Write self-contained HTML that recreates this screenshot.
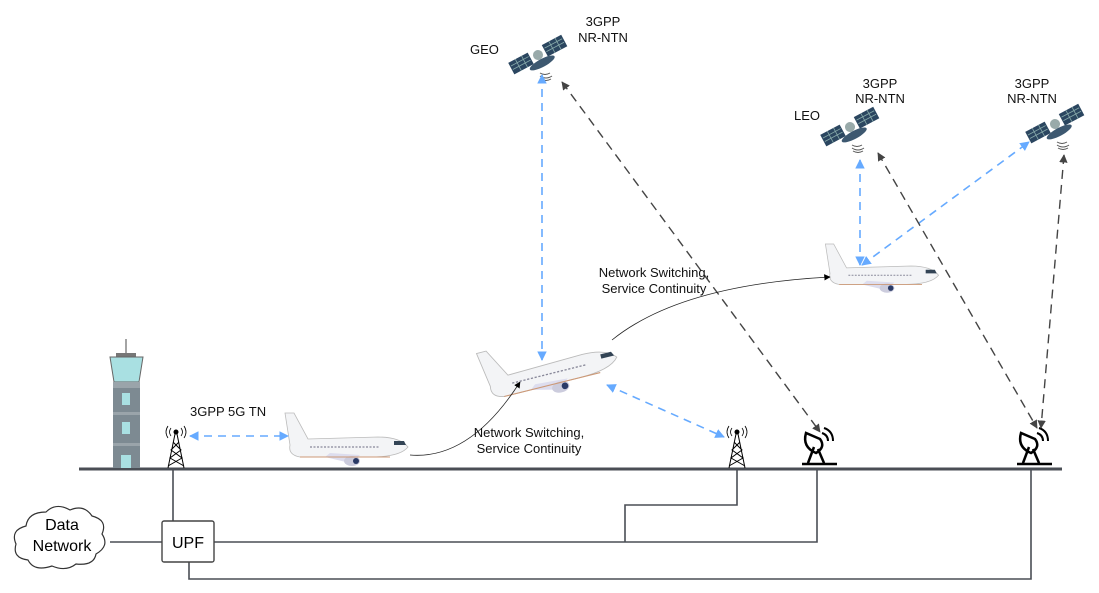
<!DOCTYPE html>
<html><head><meta charset="utf-8"><style>
html,body{margin:0;padding:0;background:#fff;}
svg{display:block;font-family:"Liberation Sans",sans-serif;}
</style></head><body>
<svg width="1099" height="593" viewBox="0 0 1099 593" xmlns="http://www.w3.org/2000/svg">
<defs>
<marker id="ab" viewBox="0 0 10 10" refX="9" refY="5" markerWidth="6" markerHeight="6" orient="auto-start-reverse"><path d="M0,0L10,5L0,10z" fill="#66aaff"/></marker>
<marker id="ak" viewBox="0 0 10 10" refX="9" refY="5" markerWidth="6" markerHeight="6" orient="auto-start-reverse"><path d="M0,0L10,5L0,10z" fill="#444"/></marker>
<marker id="ak2" viewBox="0 0 10 10" refX="9" refY="5" markerWidth="8" markerHeight="8" orient="auto"><path d="M0,0L10,5L0,10z" fill="#000"/></marker>
<g id="sat">
 <g transform="rotate(-28)">
  <rect x="-30" y="-7" width="22" height="13" fill="#2b4660"/>
  <rect x="8" y="-7" width="22" height="13" fill="#2b4660"/>
  <path d="M-29 -3H-9M-29 1H-9M-22 -7V6M-15 -7V6M9 -3H29M9 1H29M16 -7V6M23 -7V6" stroke="#8aa" stroke-width="0.8"/>
  <circle cx="0" cy="0" r="5" fill="#9aa"/>
  <ellipse cx="0" cy="9" rx="14" ry="4" fill="#3d5870"/>
 </g>
 <path d="M2 18q5 3 10 0M2 21q6 4 12 0M3 24q5 3 10 0" stroke="#555" stroke-width="1" fill="none"/>
</g>
<g id="cell">
 <circle cx="0" cy="0" r="2.5" fill="#000"/>
 <path d="M-5 -4q-3 4 0 8M5 -4q3 4 0 8M-8 -6q-4 6 0 12M8 -6q4 6 0 12" stroke="#000" stroke-width="0.8" fill="none"/>
 <path d="M-1 2L-8 36M1 2L8 36M-3 10L5 18L-6 26L8 34M3 10L-5 18L6 26L-8 34" stroke="#000" stroke-width="1" fill="none"/>
</g>
<g id="dish">
 <path d="M-14 -22q-4 14 10 20q10 -6 4 -14z" fill="none" stroke="#000" stroke-width="2.5"/>
 <path d="M-6 -8L-12 8M-2 -6L4 8M-18 9H17" stroke="#000" stroke-width="2.5"/>
 <path d="M2 -22q6 2 6 8M4 -27q9 3 9 13" stroke="#000" stroke-width="2" fill="none"/>
</g>
<g id="plane">
 <path d="M0 20 L-5 -12 L4 -12 L18 14 L88 12 Q110 12 118 22 Q110 32 80 32 L10 32 Q-2 30 0 20z" fill="#f3f4f6" stroke="#bbb" stroke-width="0.8"/>
 <path d="M104 16h10l2 4h-12z" fill="#345"/>
 <path d="M20 22H90" stroke="#889" stroke-width="1.2" stroke-dasharray="2 1.5"/>
 <path d="M40 28L70 30L60 38L35 32z" fill="#dde"/>
 <ellipse cx="62" cy="36" rx="8" ry="5" fill="#ccd"/>
 <circle cx="66" cy="36" r="3" fill="#2a3a66"/>
 <path d="M10 32H100" stroke="#c97" stroke-width="1"/>
</g>
</defs>

<!-- ground -->
<line x1="79" y1="469" x2="1062" y2="469" stroke="#4a4e55" stroke-width="3"/>
<!-- wires -->
<g stroke="#4a4e55" stroke-width="1.6" fill="none">
 <path d="M173 469V521"/>
 <path d="M214 542H817V469"/>
 <path d="M625 542V505H737V469"/>
 <path d="M189 562V579H1031V469"/>
 <path d="M110 542H162"/>
</g>
<rect x="162" y="521" width="52" height="41" rx="2" fill="#fff" stroke="#444" stroke-width="1.4"/>
<text x="188" y="548" font-size="16" text-anchor="middle">UPF</text>
<!-- cloud -->
<path d="M28 560 q-16 -2 -12 -16 q-6 -14 10 -18 q2 -14 20 -14 q10 -10 24 -2 q14 -6 22 6 q16 4 10 18 q8 12 -6 20 q-2 12 -20 10 q-10 8 -24 2 q-18 6 -24 -6z" fill="#fff" stroke="#333" stroke-width="1.2"/>
<text x="62" y="530" font-size="16" text-anchor="middle">Data</text>
<text x="62" y="551" font-size="16" text-anchor="middle">Network</text>

<!-- control tower -->
<g>
 <line x1="126" y1="339" x2="126" y2="355" stroke="#666" stroke-width="1.2"/>
 <rect x="116" y="353" width="20" height="4" fill="#777"/>
 <path d="M110 357H143L139 382H114z" fill="#a9e0e2" stroke="#666"/>
 <rect x="113" y="382" width="27" height="86" fill="#7d8a92"/>
 <rect x="113" y="382" width="27" height="6" fill="#9aa4aa"/>
 <rect x="113" y="412" width="27" height="3" fill="#9aa4aa"/>
 <rect x="113" y="443" width="27" height="3" fill="#9aa4aa"/>
 <rect x="122" y="393" width="8" height="12" fill="#a9e0e2"/>
 <rect x="122" y="422" width="8" height="12" fill="#a9e0e2"/>
 <rect x="121" y="455" width="10" height="13" fill="#a9e0e2"/>
</g>

<use href="#cell" x="176" y="432"/>
<use href="#cell" x="737" y="432"/>
<use href="#dish" x="820" y="455"/>
<use href="#dish" x="1035" y="455"/>

<!-- planes -->
<use href="#plane" x="290" y="425"/>
<g transform="translate(485 365) rotate(-14)"><use href="#plane" x="0" y="0" transform="scale(1.1)"/></g>
<use href="#plane" transform="translate(830 255) scale(0.92)"/>

<!-- satellites -->
<use href="#sat" x="538" y="55"/>
<use href="#sat" x="850" y="127"/>
<use href="#sat" x="1055" y="124"/>

<!-- blue dashed -->
<g stroke="#66aaff" stroke-width="1.6" stroke-dasharray="8 6" fill="none">
 <line x1="190" y1="436" x2="288" y2="436" marker-start="url(#ab)" marker-end="url(#ab)"/>
 <line x1="542" y1="75" x2="542" y2="360" marker-start="url(#ab)" marker-end="url(#ab)"/>
 <line x1="607" y1="385" x2="724" y2="437" marker-start="url(#ab)" marker-end="url(#ab)"/>
 <line x1="860" y1="160" x2="860" y2="265" marker-start="url(#ab)" marker-end="url(#ab)"/>
 <line x1="862" y1="265" x2="1029" y2="142" marker-start="url(#ab)" marker-end="url(#ab)"/>
</g>
<!-- black dashed -->
<g stroke="#444" stroke-width="1.4" stroke-dasharray="9 6" fill="none">
 <line x1="562" y1="82" x2="820" y2="432" marker-start="url(#ak)" marker-end="url(#ak)"/>
 <line x1="878" y1="153" x2="1037" y2="428" marker-start="url(#ak)" marker-end="url(#ak)"/>
 <line x1="1064" y1="155" x2="1041" y2="428" marker-start="url(#ak)" marker-end="url(#ak)"/>
</g>
<!-- handover curves -->
<path d="M410 455 Q470 460 520 382" stroke="#222" stroke-width="0.8" fill="none" marker-end="url(#ak2)"/>
<path d="M612 340 Q680 285 830 277" stroke="#222" stroke-width="0.8" fill="none" marker-end="url(#ak2)"/>

<!-- labels -->
<g font-size="13" fill="#111">
 <text x="190" y="416">3GPP 5G TN</text>
 <text x="529" y="437" text-anchor="middle">Network Switching,</text>
 <text x="529" y="453" text-anchor="middle">Service Continuity</text>
 <text x="654" y="277" text-anchor="middle">Network Switching,</text>
 <text x="654" y="293" text-anchor="middle">Service Continuity</text>
 <text x="470" y="54">GEO</text>
 <text x="603" y="26" text-anchor="middle">3GPP</text>
 <text x="603" y="42" text-anchor="middle">NR-NTN</text>
 <text x="794" y="120">LEO</text>
 <text x="880" y="88" text-anchor="middle">3GPP</text>
 <text x="880" y="103" text-anchor="middle">NR-NTN</text>
 <text x="1032" y="88" text-anchor="middle">3GPP</text>
 <text x="1032" y="103" text-anchor="middle">NR-NTN</text>
</g>
</svg>
</body></html>
